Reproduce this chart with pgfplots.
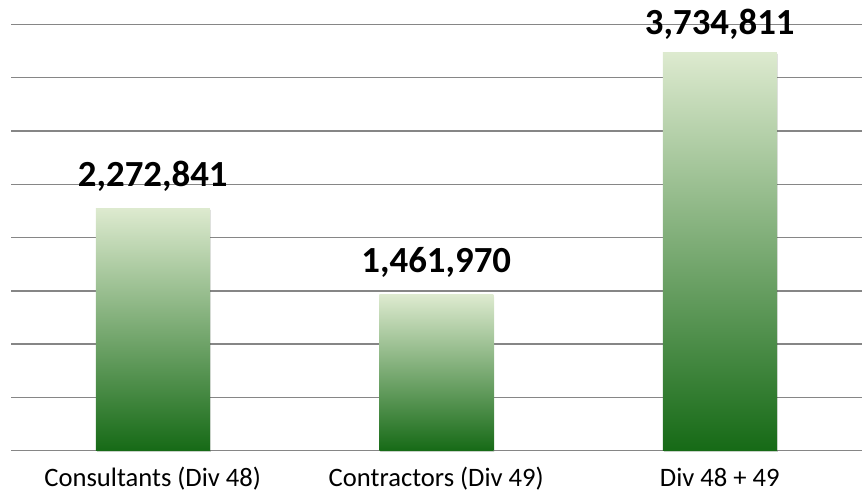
\documentclass[border=0pt]{standalone}
\usepackage{pgfplots}
\pgfplotsset{compat=1.18}
\usepackage{fontspec}
\setmainfont{Carlito}
\definecolor{gridgray}{RGB}{134,134,134}
\definecolor{bartop}{RGB}{221,234,207}
\definecolor{barmid}{RGB}{166,190,104}
\definecolor{barbot}{RGB}{22,106,22}
\pgfplotsset{
  greenbar/.style={ybar, bar width=114pt, draw=none, bar shift=0pt,
    top color=bartop, middle color=barmid, bottom color=barbot,
    preaction={fill=black, fill opacity=0.12, transform canvas={xshift=1.2pt, yshift=-1.2pt}},
    point meta=explicit symbolic,
    nodes near coords={\pgfplotspointmeta},
    every node near coord/.append style={anchor=base, yshift=#1,
       font=\bfseries\fontsize{36.8}{36.8}\selectfont, text=black, fill opacity=1}},
}
\begin{document}
\begin{tikzpicture}
\useasboundingbox (0,0) rectangle (864pt,498pt);
\begin{axis}[
  at={(11pt,47.3pt)}, anchor=south west,
  scale only axis, width=850.5pt, height=426.2pt,
  xmin=-0.5, xmax=2.5, ymin=0, ymax=4000000,
  clip=false,
  axis x line*=bottom, axis y line*=left,
  y axis line style={draw=none},
  x axis line style={draw=gridgray, line width=1.4pt, -},
  ytick={0,500000,...,4000000}, yticklabels={},
  ytick style={draw=none},
  ymajorgrids, grid style={draw=gridgray, line width=1.4pt},
  xtick={0,1,2},
  xticklabels={Consultants (Div 48),Contractors (Div 49),Div 48 + 49},
  major x tick style={draw=none},
  extra x ticks={-0.5,0.5,1.5,2.5}, extra x tick labels={},
  extra x tick style={tick align=outside, major tick length=8.5pt,
     tick style={draw=gridgray, line width=1.2pt}, xmajorgrids=false},
  xticklabel style={font=\fontsize{26.6}{26.6}\selectfont, anchor=base, yshift=-36pt},
  scaled y ticks=false,
]
\addplot[greenbar=22pt] coordinates {(0,2272841) [2,272,841]};
\addplot[greenbar=22pt] coordinates {(1,1461970) [1,461,970]};
\addplot[greenbar=18pt] coordinates {(2,3734811) [3,734,811]};
\end{axis}
\end{tikzpicture}
\end{document}
